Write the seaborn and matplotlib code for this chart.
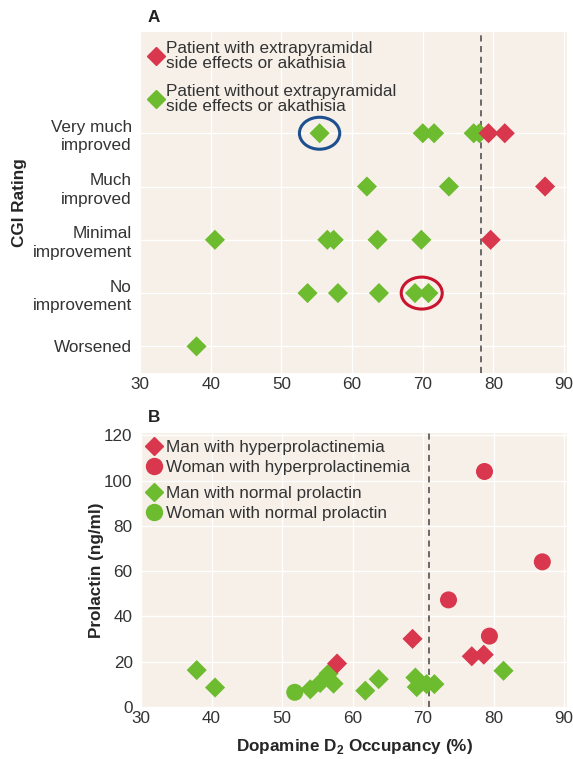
import numpy as np
import pandas as pd
import matplotlib
matplotlib.use("Agg")
import matplotlib.pyplot as plt
from matplotlib.patches import Ellipse
from matplotlib.lines import Line2D
import seaborn as sns

# ---------------- data ----------------
cgi_labels = ["Worsened", "No\nimprovement", "Minimal\nimprovement",
              "Much\nimproved", "Very much\nimproved"]
cgi_levels = [1, 2, 3, 4, 5]

# Panel A: patients with EPS / akathisia
eps_occ = [79.3, 81.6, 87.3, 79.6]
eps_cgi = [5, 5, 4, 3]
# Panel A: patients without EPS / akathisia
noeps_occ = [55.4, 70.0, 71.6, 77.2, 78.0, 62.1, 73.7, 40.6, 56.5, 57.4,
             63.6, 69.8, 53.7, 58.0, 63.8, 68.9, 70.8, 38.0]
noeps_cgi = [5, 5, 5, 5, 5, 4, 4, 3, 3, 3, 3, 3, 2, 2, 2, 2, 2, 1]
threshold_a = 78.3

# Panel B
man_hyper_occ = [68.5, 57.8, 76.9, 78.6]
man_hyper_prl = [30.1, 19.2, 22.4, 23.1]
woman_hyper_occ = [78.7, 86.9, 73.6, 79.4]
woman_hyper_prl = [104.0, 64.1, 47.3, 31.3]
man_normal_occ = [37.9, 40.5, 54.0, 55.4, 56.6, 57.3, 61.8, 63.7, 68.9, 69.1,
                  70.5, 71.6, 81.4]
man_normal_prl = [16.3, 8.6, 7.8, 10.6, 14.8, 10.3, 7.2, 12.3, 13.0, 8.8,
                  10.1, 10.1, 16.0]
woman_normal_occ = [51.8]
woman_normal_prl = [6.5]
threshold_b = 70.8

x_ticks = [30, 40, 50, 60, 70, 80, 90]
y_ticks_b = [0, 20, 40, 60, 80, 100, 120]

# ---------------- style ----------------
RED = "#d8374d"
GREEN = "#6dbb2f"
BG = "#f7f0e9"
TXT = "#333333"
FS = 12.3
sns.set_theme(style="whitegrid")
plt.rcParams["font.family"] = ["Liberation Sans", "DejaVu Sans"]
plt.rcParams["mathtext.fontset"] = "custom"
plt.rcParams["mathtext.rm"] = "Liberation Sans"
plt.rcParams["mathtext.bf"] = "Liberation Sans:bold"
plt.rcParams["text.color"] = TXT

fig = plt.figure(figsize=(5.73, 7.59), dpi=100)
W, H = 573, 759
def ax_rect(l, t, r, b):
    return [l / W, 1 - b / H, (r - l) / W, (b - t) / H]

axA = fig.add_axes(ax_rect(140, 32, 567, 373))
axB = fig.add_axes(ax_rect(141, 433, 567, 707))

for ax in (axA, axB):
    ax.set_facecolor(BG)
    for s in ax.spines.values():
        s.set_visible(False)
    ax.grid(True, color="white", linewidth=1.0)
    ax.tick_params(length=0, labelsize=FS, colors=TXT)
    ax.tick_params(axis="x", pad=3)
    ax.tick_params(axis="y", pad=6)

# ---------------- panel A ----------------
dfA_no = pd.DataFrame({"occ": noeps_occ, "cgi": noeps_cgi})
dfA_eps = pd.DataFrame({"occ": eps_occ, "cgi": eps_cgi})
axA.axvline(threshold_a, color="#444444", linestyle=(0, (4, 3)), linewidth=1.1, zorder=1.5)
sns.scatterplot(data=dfA_no, x="occ", y="cgi", ax=axA, marker="D", s=105,
                color=GREEN, edgecolor="none", zorder=3)
sns.scatterplot(data=dfA_eps, x="occ", y="cgi", ax=axA, marker="D", s=105,
                color=RED, edgecolor="none", zorder=4)

# highlight ellipses around specific points
blue_x, blue_y = noeps_occ[0], noeps_cgi[0]
red_x = (noeps_occ[15] + noeps_occ[16]) / 2
red_y = noeps_cgi[15]
axA.add_patch(Ellipse((blue_x, blue_y), 5.7, 0.6, fill=False,
                      edgecolor="#1e4f8f", linewidth=2.2, zorder=5))
axA.add_patch(Ellipse((red_x, red_y), 5.8, 0.6, fill=False,
                      edgecolor="#c8142e", linewidth=2.2, zorder=5))

axA.set_xlim(30, 90.4)
axA.set_ylim(0.5, 6.9)
axA.set_xticks(x_ticks)
axA.set_yticks(cgi_levels)
axA.set_yticklabels(cgi_labels, fontsize=FS, linespacing=1.3)
for t in axA.get_yticklabels():
    t.set_horizontalalignment("right")
axA.set_xlabel("")
axA.set_ylabel("CGI Rating", fontsize=FS, fontweight="bold")
axA.yaxis.set_label_coords(-0.265, 0.5)

handlesA = [
    Line2D([], [], marker="D", linestyle="none", color=RED, markersize=9.5),
    Line2D([], [], marker="D", linestyle="none", color=GREEN, markersize=9.5),
]
legA = axA.legend(handlesA,
                  ["Patient with extrapyramidal\nside effects or akathisia",
                   "Patient without extrapyramidal\nside effects or akathisia"],
                  loc="upper left", bbox_to_anchor=(-0.012, 1.005), frameon=False,
                  fontsize=FS, handletextpad=0.0, handlelength=1.2,
                  labelspacing=0.75, borderaxespad=0.25)
for t in legA.get_texts():
    t.set_linespacing(1.0)
    t.set_color(TXT)

fig.text(148 / W, 1 - 18 / H, "A", fontsize=FS, fontweight="bold",
         ha="left", va="center", color="#222222")

# ---------------- panel B ----------------
df_mn = pd.DataFrame({"occ": man_normal_occ, "prl": man_normal_prl})
df_wn = pd.DataFrame({"occ": woman_normal_occ, "prl": woman_normal_prl})
df_mh = pd.DataFrame({"occ": man_hyper_occ, "prl": man_hyper_prl})
df_wh = pd.DataFrame({"occ": woman_hyper_occ, "prl": woman_hyper_prl})

axB.axvline(threshold_b, color="#444444", linestyle=(0, (4, 3)), linewidth=1.1, zorder=1.5)
sns.scatterplot(data=df_wn, x="occ", y="prl", ax=axB, marker="o", s=150,
                color=GREEN, edgecolor="none", zorder=3)
sns.scatterplot(data=df_mn, x="occ", y="prl", ax=axB, marker="D", s=105,
                color=GREEN, edgecolor="none", zorder=3)
sns.scatterplot(data=df_mh, x="occ", y="prl", ax=axB, marker="D", s=105,
                color=RED, edgecolor="none", zorder=4)
sns.scatterplot(data=df_wh, x="occ", y="prl", ax=axB, marker="o", s=150,
                color=RED, edgecolor="none", zorder=4)

axB.set_xlim(30, 90.4)
axB.set_ylim(0, 121)
axB.set_xticks(x_ticks)
axB.set_yticks(y_ticks_b)
axB.set_xlabel(r"Dopamine D$_{\mathbf{2}}$ Occupancy (%)", fontsize=FS,
               fontweight="bold", labelpad=8)
axB.set_ylabel("Prolactin (ng/ml)", fontsize=FS, fontweight="bold")
axB.yaxis.set_label_coords(-0.087, 0.5)

leg_kw = dict(loc="upper left", frameon=False, fontsize=FS, handletextpad=0.1,
              handlelength=1.2, labelspacing=0.25, borderaxespad=0.0)
legB1 = axB.legend(
    [Line2D([], [], marker="D", linestyle="none", color=RED, markersize=9.5),
     Line2D([], [], marker="o", linestyle="none", color=RED, markersize=11.5)],
    ["Man with hyperprolactinemia", "Woman with hyperprolactinemia"],
    bbox_to_anchor=(-0.01, 0.998), **leg_kw)
axB.add_artist(legB1)
legB2 = axB.legend(
    [Line2D([], [], marker="D", linestyle="none", color=GREEN, markersize=9.5),
     Line2D([], [], marker="o", linestyle="none", color=GREEN, markersize=11.5)],
    ["Man with normal prolactin", "Woman with normal prolactin"],
    bbox_to_anchor=(-0.01, 0.83), **leg_kw)
for lg in (legB1, legB2):
    for t in lg.get_texts():
        t.set_color(TXT)

fig.text(148 / W, 1 - 418 / H, "B", fontsize=FS, fontweight="bold",
         ha="left", va="center", color="#222222")

fig.savefig("out.png", dpi=100, facecolor="white")
